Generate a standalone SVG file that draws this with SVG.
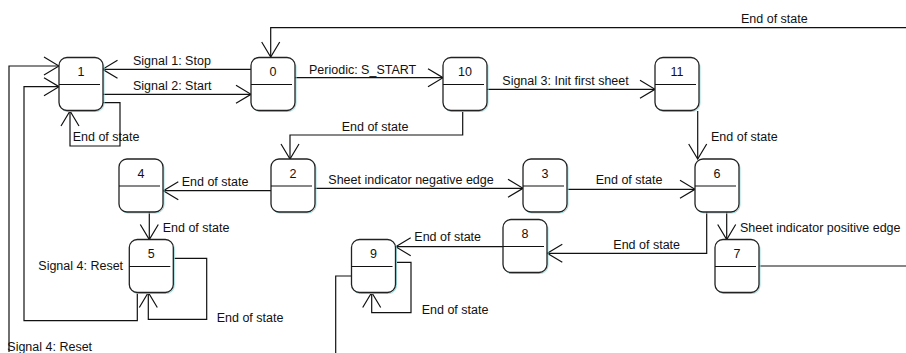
<svg xmlns="http://www.w3.org/2000/svg" width="906" height="353" viewBox="0 0 906 353">
<style>
.box{fill:#fff;stroke:#222;stroke-width:1.3}
.sh{fill:none;stroke:#9dd;stroke-width:1}
.div{stroke:#111;stroke-width:1.2}
.num{font-family:"Liberation Sans",Arial,sans-serif;font-size:12.5px;fill:#111;text-anchor:middle}
.lbl{font-family:"Liberation Sans",Arial,sans-serif;font-size:12.5px;fill:#111}
.c{fill:none;stroke:#111;stroke-width:1.2;marker-end:url(#arr)}
.n{fill:none;stroke:#111;stroke-width:1.2}
</style>
<defs>
<marker id="arr" viewBox="-16 -10 17 20" markerWidth="17" markerHeight="20" refX="0" refY="0" orient="auto" markerUnits="userSpaceOnUse">
<path d="M-15,-9 L0,0 L-15,9" fill="none" stroke="#111" stroke-width="1.2"/>
</marker>
<g id="state">
<rect class="sh" x="1" y="1" width="44" height="53" rx="8"/>
<rect class="box" x="0" y="0" width="44" height="53" rx="8"/>
<line class="div" x1="0" y1="27" x2="41" y2="27"/>
</g>
</defs>
<rect width="906" height="353" fill="#fff"/>

<g id="connectors">
<path class="c" d="M906,27.7 H270.7 V57"/>
<path class="c" d="M251,69.3 H102.5"/>
<path class="c" d="M102.5,94.3 H251"/>
<path class="c" d="M102.5,102.7 H120 V146 H70 V111"/>
<path class="c" d="M9,352 V66 H59"/>
<path class="c" d="M137.3,292.5 V320.7 H24 V86.7 H59"/>
<path class="c" d="M294,77.7 H443"/>
<path class="c" d="M487,89.3 H655"/>
<path class="c" d="M462.7,111 V135 H290 V159"/>
<path class="c" d="M697.7,111 V159"/>
<path class="c" d="M271,190.7 H163.3"/>
<path class="c" d="M149.3,212 V239.5"/>
<path class="c" d="M173.3,258.3 H206.7 V319.3 H148.3 V292.5"/>
<path class="c" d="M315,188.3 H523"/>
<path class="c" d="M567.7,189.3 H695"/>
<path class="c" d="M726.7,212 V239.5"/>
<path class="c" d="M706.7,212 V253.3 H547.3"/>
<path class="c" d="M503.3,246.7 H395.7"/>
<path class="c" d="M395.7,262.3 H411 V312.7 H371.7 V292.5"/>
<path class="n" d="M351,276 H335.7 V353"/>
<path class="n" d="M759.3,266 H906"/>
</g>

<g id="labels">
<text class="lbl" x="741" y="22.8">End of state</text>
<text class="lbl" x="133" y="64.5">Signal 1: Stop</text>
<text class="lbl" x="133" y="89.5">Signal 2: Start</text>
<text class="lbl" x="72.7" y="141">End of state</text>
<text class="lbl" x="309" y="73.5">Periodic: S_START</text>
<text class="lbl" x="502.3" y="85">Signal 3: Init first sheet</text>
<text class="lbl" x="341.7" y="130.5">End of state</text>
<text class="lbl" x="711" y="141">End of state</text>
<text class="lbl" x="181.7" y="186">End of state</text>
<text class="lbl" x="162.7" y="232">End of state</text>
<text class="lbl" x="38.3" y="270">Signal 4: Reset</text>
<text class="lbl" x="216.7" y="321.5">End of state</text>
<text class="lbl" x="328.3" y="183.5">Sheet indicator negative edge</text>
<text class="lbl" x="595.7" y="184">End of state</text>
<text class="lbl" x="740" y="232">Sheet indicator positive edge</text>
<text class="lbl" x="613.3" y="249">End of state</text>
<text class="lbl" x="414.3" y="241">End of state</text>
<text class="lbl" x="421.7" y="314">End of state</text>
<text class="lbl" x="7.3" y="350.5">Signal 4: Reset</text>
</g>

<g id="node-1"><use href="#state" x="59" y="57.5"/><text class="num" x="81" y="76">1</text></g>
<g id="node-0"><use href="#state" x="251" y="57.5"/><text class="num" x="273" y="76">0</text></g>
<g id="node-10"><use href="#state" x="443" y="57.5"/><text class="num" x="465" y="76">10</text></g>
<g id="node-11"><use href="#state" x="655" y="57.5"/><text class="num" x="677" y="76">11</text></g>
<g id="node-4"><use href="#state" x="119" y="159"/><text class="num" x="141" y="177.5">4</text></g>
<g id="node-2"><use href="#state" x="271" y="159"/><text class="num" x="293" y="177.5">2</text></g>
<g id="node-3"><use href="#state" x="523" y="159"/><text class="num" x="545" y="177.5">3</text></g>
<g id="node-6"><use href="#state" x="695" y="159"/><text class="num" x="717" y="177.5">6</text></g>
<g id="node-8"><use href="#state" x="503" y="219.5"/><text class="num" x="525" y="238">8</text></g>
<g id="node-5"><use href="#state" x="129.3" y="239.5"/><text class="num" x="151.3" y="258">5</text></g>
<g id="node-9"><use href="#state" x="351.5" y="239.5"/><text class="num" x="373.5" y="258">9</text></g>
<g id="node-7"><use href="#state" x="715" y="239.5"/><text class="num" x="737" y="258">7</text></g>
</svg>
